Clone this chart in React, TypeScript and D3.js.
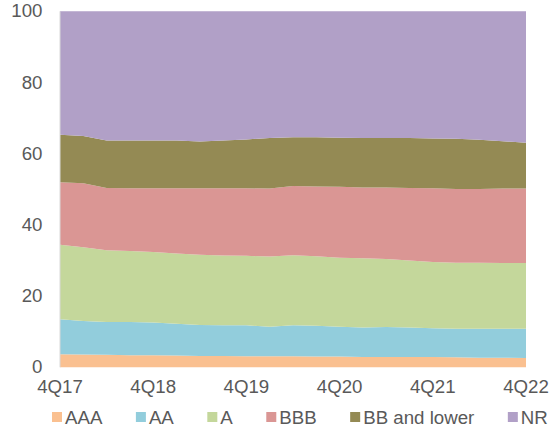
import React from "react";
import * as d3 from "d3";

const quarters = ["4Q17","1Q18","2Q18","3Q18","4Q18","1Q19","2Q19","3Q19","4Q19","1Q20","2Q20","3Q20","4Q20","1Q21","2Q21","3Q21","4Q21","1Q22","2Q22","3Q22","4Q22"];
const xTickLabels = ["4Q17","4Q18","4Q19","4Q20","4Q21","4Q22"];
const seriesNames = ["AAA","AA","A","BBB","BB and lower","NR"];
const AAA = [3.7,3.6,3.5,3.4,3.4,3.3,3.2,3.2,3.1,3.1,3.1,3.0,3.0,2.9,2.9,2.9,2.9,2.8,2.7,2.7,2.6];
const AA = [9.8,9.4,9.2,9.3,9.2,8.9,8.7,8.6,8.7,8.3,8.7,8.7,8.4,8.3,8.4,8.3,8.1,8.0,8.1,8.1,8.2];
const A = [20.9,20.7,20.2,20.0,19.8,19.8,19.7,19.6,19.5,19.7,19.7,19.5,19.4,19.4,19.1,18.8,18.6,18.6,18.6,18.5,18.5];
const BBB = [17.6,18.0,17.5,17.6,17.9,18.3,18.7,18.9,19.0,19.1,19.4,19.6,19.9,19.9,20.1,20.4,20.7,20.7,20.7,20.9,20.9];
const BB = [13.3,13.3,13.3,13.4,13.4,13.4,13.1,13.4,13.7,14.2,13.7,13.8,13.8,13.9,13.9,14.0,14.0,14.1,13.8,13.3,12.9];
const NR = [34.7,35.0,36.3,36.3,36.3,36.3,36.6,36.3,36.0,35.6,35.4,35.4,35.5,35.6,35.6,35.6,35.7,35.8,36.1,36.5,36.9];
const yTicks = [0,20,40,60,80,100];
const colors = ["#FAC090","#92CDDC","#C4D79B","#DA9694","#948A54","#B1A0C7"];

const FONT = "'Liberation Sans', Arial, sans-serif";
const FS = 18.7;

export default function App() {
  const W = 550, H = 430;
  const m = { left: 60, right: 24, top: 11.3, bottom: 62.7 };
  const x = d3.scalePoint<string>().domain(quarters).range([m.left, W - m.right]);
  const y = d3.scaleLinear().domain([0, 100]).range([H - m.bottom, m.top]);
  const seriesData = [AAA, AA, A, BBB, BB, NR];
  const rows = quarters.map((q, i) => {
    const r: any = { q };
    seriesNames.forEach((s, k) => (r[s] = seriesData[k][i]));
    return r;
  });
  const stack = d3.stack<any>().keys(seriesNames).offset(d3.stackOffsetExpand);
  const stacked = stack(rows);
  const area = d3
    .area<any>()
    .x((d) => x(d.data.q) as number)
    .y0((d) => y(d[0] * 100))
    .y1((d) => y(d[1] * 100))
    .curve(d3.curveLinear);

  let widths = seriesNames.map((s) => s.length * FS * 0.6);
  try {
    const ctx = document.createElement("canvas").getContext("2d");
    if (ctx) {
      ctx.font = `${FS}px 'Liberation Sans'`;
      widths = seriesNames.map((s) => ctx.measureText(s).width);
    }
  } catch (e) {}
  let lx = 52;
  const legendItems = seriesNames.map((s, i) => {
    const item = { s, x: lx, c: colors[i] };
    lx += 10 + 3 + widths[i] + 33.5;
    return item;
  });

  return (
    <svg width={W} height={H} style={{ position: "absolute", left: 0, top: 0 }} fontFamily={FONT}>
      <rect width={W} height={H} fill="#fff" />
      {stacked.map((s, i) => (
        <path key={s.key} d={area(s) || ""} fill={colors[i]} />
      ))}
      <line x1={m.left} x2={m.left} y1={y(0)} y2={y(100)} stroke="#d9d9d9" strokeWidth={1} />
      {yTicks.map((t) => (
        <text key={t} x={42.5} y={y(t)} dy={6} textAnchor="end" fontSize={FS} fill="#595959">
          {t}
        </text>
      ))}
      {xTickLabels.map((t) => (
        <text key={t} x={x(t)} y={392.7} textAnchor="middle" fontSize={FS} fill="#595959">
          {t}
        </text>
      ))}
      {legendItems.map((it) => (
        <g key={it.s}>
          <rect x={it.x} y={412} width={10} height={10} fill={it.c} />
          <text x={it.x + 13} y={424} fontSize={FS} fill="#595959">
            {it.s}
          </text>
        </g>
      ))}
    </svg>
  );
}
